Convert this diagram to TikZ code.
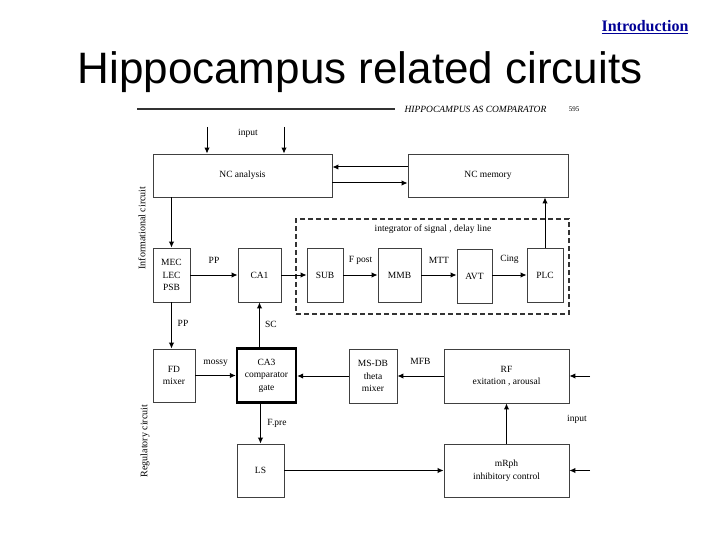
\documentclass[tikz,border=0pt]{standalone}
\usepackage{fontspec}
\setmainfont{Liberation Serif}
\newfontfamily\titlefont{Liberation Sans}
\usetikzlibrary{arrows.meta}
\definecolor{linkblue}{RGB}{0,0,150}

\begin{document}
\begin{tikzpicture}[x=1pt, y=-1pt,
  every node/.style={font=\fontsize{9.5}{12.5}\selectfont},
  blk/.style={draw=black!75, line width=0.9pt, inner sep=1pt, align=center},
  gate/.style={blk, draw=black, line width=2.4pt},
  arr/.style={-{Latex[length=6pt, width=5.5pt]}, line width=1pt},
  lab/.style={inner sep=0pt},
  side/.style={rotate=90, font=\fontsize{10}{10}\selectfont}]

\useasboundingbox (0,0) rectangle (720,540);

% slide heading
\node[font=\fontsize{16}{18}\selectfont\bfseries, text=linkblue] (intro) at (645,27) {\underline{Introduction}};
\node[font=\titlefont\fontsize{44}{48}\selectfont, anchor=base] (title) at (360,84) {Hippocampus related circuits};

% header of the scanned page
\coordinate (rulea) at (137,109);
\coordinate (ruleb) at (395,109);
\draw[line width=1.2pt, black!80] (rulea) -- (ruleb);
\node[anchor=west, font=\fontsize{9.5}{10}\selectfont\itshape] (head) at (401,109) {HIPPOCAMPUS AS COMPARATOR};
\node[font=\fontsize{7}{8}\selectfont] (page) at (574,109) {595};

% informational circuit
\node[blk, minimum width=179pt, minimum height=43pt] (nca) at (242.5,175.5) {NC analysis};
\node[blk, minimum width=160pt, minimum height=43pt] (ncm) at (488,175.5) {NC memory};
\node[draw=black!80, dashed, dash pattern=on 5pt off 3pt, line width=1.2pt, minimum width=273pt, minimum height=95pt] (delay) at (432.5,266.5) {};
\node[lab] (delaylab) at (433,229) {integrator of signal , delay line};
\node[blk, minimum width=37pt, minimum height=54pt] (mec) at (171.5,275) {MEC\\LEC\\PSB};
\node[blk, minimum width=43pt, minimum height=54pt] (ca1) at (259.5,275) {CA1};
\node[blk, minimum width=36pt, minimum height=54pt] (sub) at (325,275) {SUB};
\node[blk, minimum width=43pt, minimum height=54pt] (mmb) at (399.5,275) {MMB};
\node[blk, minimum width=35pt, minimum height=54pt] (avt) at (474.5,276) {AVT};
\node[blk, minimum width=36pt, minimum height=54pt] (plc) at (545,275) {PLC};
\node[side] (infolab) at (142,228) {Informational circuit};

% regulatory circuit
\node[blk, minimum width=42pt, minimum height=53pt] (fd) at (174,375.5) {FD\\mixer};
\node[gate, minimum width=59pt, minimum height=54pt] (ca3) at (266.5,375.5) {CA3\\comparator\\gate};
\node[blk, minimum width=48pt, minimum height=54pt] (msdb) at (373,376) {MS-DB\\theta\\mixer};
\node[blk, minimum width=125pt, minimum height=54pt] (rf) at (506.5,376) {RF\\exitation , arousal};
\node[blk, minimum width=47pt, minimum height=53pt] (ls) at (260.5,470.5) {LS};
\node[blk, minimum width=125pt, minimum height=53pt] (mrph) at (506.5,470.5) {mRph\\inhibitory control};
\node[side] (reglab) at (145,441) {Regulatory circuit};

% inputs
\coordinate (in1) at (207,127);
\coordinate (in2) at (284,127);
\coordinate (in3) at (590,376);
\coordinate (in4) at (590,470.5);
\node[lab] (inlab1) at (248,133) {input};
\node[lab] (inlab2) at (577,419) {input};
\draw[arr] (in1) -- (in1 |- nca.north);
\draw[arr] (in2) -- (in2 |- nca.north);
\draw[arr] (in3) -- (in3 -| rf.east);
\draw[arr] (in4) -- (in4 -| mrph.east);

% connections
\draw[arr] ([yshift=8.5pt]ncm.west) -- ([yshift=8.5pt]nca.east);
\draw[arr] ([yshift=-7.5pt]nca.east) -- ([yshift=-7.5pt]ncm.west);
\draw[arr] (nca.south -| mec.north) -- (mec.north);
\draw[arr] (mec) -- node[lab, above=11pt] (pp1) {PP} (ca1);
\draw[arr] (ca1) -- (sub);
\draw[arr] (sub) -- node[lab, above=10pt] (fpost) {F post} (mmb);
\draw[arr] (mmb) -- node[lab, above=11pt] (mtt) {MTT} (mmb -| avt.west);
\draw[arr] (avt.east |- plc) -- node[lab, above=11pt] (cing) {Cing} (plc);
\draw[arr] (plc) -- (plc |- ncm.south);
\draw[arr] (mec.south) -- (mec.south |- fd.north);
\node[lab] (pp2) at (183,323) {PP};
\draw[arr] (ca3.north -| ca1.south) -- (ca1.south);
\node[lab] (sc) at (271,324) {SC};
\draw[arr] (fd) -- node[lab, above=8pt] (mossy) {mossy} (fd -| ca3.west);
\draw[arr] (msdb.west) -- (msdb.west -| ca3.east);
\draw[arr] (rf) -- node[lab, above=11pt] (mfb) {MFB} (msdb);
\draw[arr] (ca3.south -| ls.north) -- (ls.north);
\node[lab] (fpre) at (277,423) {F.pre};
\draw[arr] (ls) -- (mrph);
\draw[arr] (mrph) -- (rf);
\end{tikzpicture}
\end{document}
